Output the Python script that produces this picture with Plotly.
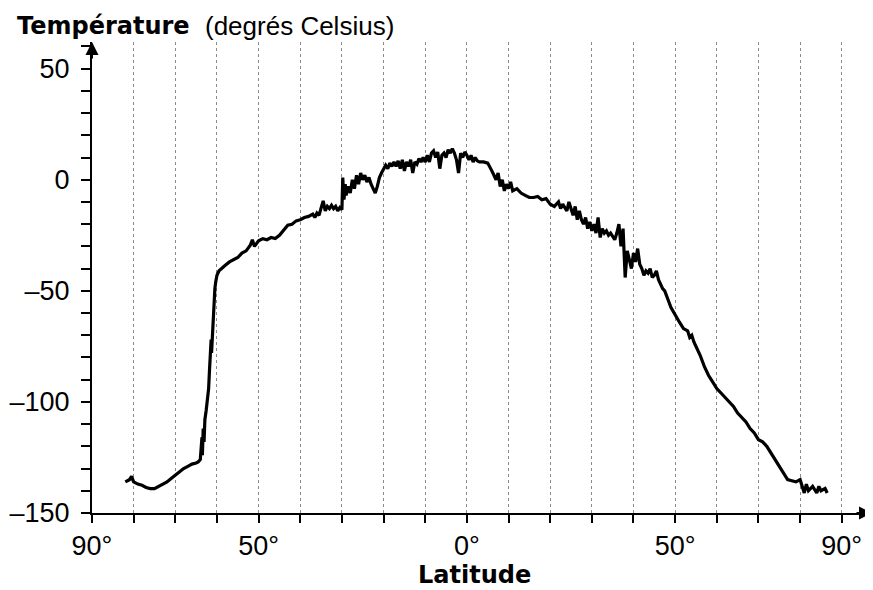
import plotly.graph_objects as go

# Latitude (negative = left side of chart) and temperature (°C)
latitude = [
    -82, -81, -80.5, -80, -79, -78, -77, -76, -75, -74, -73, -72, -71, -70, -69, -68, -67, -66, -65, -64.5,
    -64, -63.8, -63.6, -63.5, -63.3, -63.1, -62.9, -62.6, -62.3, -62.0, -61.8, -61.6, -61.4, -61.3, -61.1,
    -60.9, -60.7, -60.5, -60.3, -60, -59.5, -59,
    -58, -57, -56, -55, -54, -53, -52, -51.5, -51, -50, -49, -48, -47, -46, -45, -44, -43, -42, -41, -40,
    -39, -38, -37, -36.5, -36, -35.5, -35, -34.5, -34, -33.5, -33, -32.5, -32, -31.5, -31, -30.5, -30,
    -29.8, -29.5, -29.2, -29, -28.5, -28, -27.5, -27, -26.5, -26, -25.5, -25, -24.5, -24, -23.5, -23, -22.5,
    -22, -21.5, -21, -20.5, -20, -19.5, -19, -18.5, -18, -17.5, -17, -16.5, -16, -15.5, -15, -14.5, -14,
    -13.5, -13, -12.5, -12, -11.5, -11, -10.5, -10, -9.5, -9, -8.5, -8, -7.5, -7, -6.5, -6, -5.5, -5, -4.5,
    -4, -3.5, -3, -2.5, -2, -1.5, -1, -0.5, 0, 0.5, 1, 1.5, 2, 2.5, 3, 4, 5, 5.5, 6, 6.5, 7, 7.5, 8, 8.5,
    9, 9.5, 10, 10.5, 11, 12, 13, 14, 15, 16, 17, 18, 19, 20, 21, 22, 22.5, 23, 24, 24.5, 25, 25.5, 26,
    26.5, 27, 27.5, 28, 28.5, 29, 29.5, 30, 30.5, 31, 31.5, 32, 32.5, 33, 33.5, 34, 34.5, 35, 35.5, 36,
    36.5, 37, 37.5, 38, 38.5, 39, 39.5, 40, 40.5, 41, 41.5, 42, 42.5, 43, 43.5, 44, 44.5, 45, 45.5, 46,
    46.5, 47, 47.5, 48, 48.5, 49, 50, 51, 52, 53, 53.5, 54, 54.5, 55, 56, 57, 58, 59, 60, 61, 62, 63, 64,
    65, 66, 67, 68, 69, 70, 71, 72, 73, 74, 75, 76, 77, 78, 79, 80, 80.5, 81, 81.5, 82, 83, 84, 84.5, 85,
    86, 86.5,
]
temperature = [
    -136, -135, -133.5, -136, -137, -137.5, -138.5, -139, -139, -138, -137, -136, -134.5, -133, -131.5, -130, -129, -128, -127.5, -127,
    -126, -122, -116, -124, -112, -118, -108, -104, -100, -94, -86, -80, -72, -78, -70,
    -62, -54, -49, -46, -43, -41, -40,
    -38.5, -37, -36, -35, -33, -32, -29.5, -27, -30, -27.5, -26.5, -27, -26, -26.5, -25, -23, -20.5, -20, -18.5, -18,
    -17, -16.5, -15.5, -17, -15, -16, -13, -9.5, -14, -12, -13, -11.5, -13, -12, -14, -12.5, -13.5,
    1, -9, -2, -7, -3, -6, 0, -4, 2, -2, 3, 0, 2, -1, 1, -2, -4,
    -6, -3, 1, 3, 5, 6.5, 5, 7.5, 6, 8, 6, 8.5, 5, 9, 4, 8, 6,
    9, 3, 8, 7, 9.5, 8, 10, 8, 11, 8, 12, 13, 10, 12.5, 5, 11, 12, 10, 13.5,
    12, 14, 12, 9, 3, 12, 10, 12.5, 11, 9, 11, 8, 10, 8.5, 8, 8, 7.5, 6, 4, 2, 0, 3, -3, 0,
    -5, -2, -4, -1, -5, -4, -6, -7, -8, -8, -7.5, -9, -8.5, -11, -12, -10, -13, -11, -14, -10, -13, -16, -12,
    -18, -14, -18, -20, -17, -22, -19, -23, -20, -24, -17, -26, -22, -24, -23, -25, -24, -25.5, -27, -24,
    -20, -30, -22, -44, -32, -36, -40, -33, -37, -31, -38, -40, -43, -41, -42, -40, -44, -43, -41, -45,
    -47, -49, -50, -53, -55, -57.5, -61, -64, -67, -68, -71, -70, -73, -75, -79, -84, -88, -91, -94, -96, -98, -100, -102,
    -105, -107, -109, -112, -114, -117, -118, -120, -123, -126, -129, -132, -135, -135.5, -136, -135, -138, -141, -137, -140, -138, -141, -138, -140,
    -139, -141,
]

x_tick_values = [-90, -80, -70, -60, -50, -40, -30, -20, -10, 0, 10, 20, 30, 40, 50, 60, 70, 80, 90]
x_tick_labels = ["90°", "", "", "", "50°", "", "", "", "", "0°", "", "", "", "", "50°", "", "", "", "90°"]
y_tick_values = [-150, -100, -50, 0, 50]
y_tick_labels = ["–150", "–100", "–50", "0", "50"]

FONT = "Liberation Sans, Arial, sans-serif"
BOLD_FONT = "DejaVu Sans, sans-serif"

fig = go.Figure()
fig.add_trace(go.Scatter(
    x=latitude, y=temperature, mode="lines",
    line=dict(color="black", width=3.2),
    showlegend=False, hoverinfo="skip",
))

fig.update_layout(
    width=865, height=582,
    margin=dict(l=84, r=0, t=34, b=77),
    paper_bgcolor="white", plot_bgcolor="white",
    font=dict(family=FONT, color="black", size=26),
    xaxis=dict(
        range=[-90, 97.5], tickvals=x_tick_values, ticktext=x_tick_labels,
        ticks="outside", ticklen=8, tickwidth=2, tickcolor="black",
        showline=True, linecolor="black", linewidth=2,
        showgrid=True, gridcolor="#8a8a8a", griddash="dot", gridwidth=1,
        zeroline=False, tickfont=dict(size=27, family=FONT),
        ticklabelstandoff=0,
    ),
    yaxis=dict(
        range=[-150, 62], tickvals=y_tick_values, ticktext=y_tick_labels,
        ticks="outside", ticklen=9, tickwidth=2, tickcolor="black",
        minor=dict(dtick=10, ticks="outside", ticklen=9, tickwidth=2, tickcolor="black", showgrid=False),
        showline=True, linecolor="black", linewidth=2,
        showgrid=False, zeroline=False, tickfont=dict(size=27, family=FONT),
        ticklabelstandoff=6,
    ),
    annotations=[
        dict(text="<b>Température</b>", xref="paper", yref="paper",
             x=-0.0986, y=1.035, xanchor="left", yanchor="middle", showarrow=False,
             font=dict(size=24, family=BOLD_FONT)),
        dict(text="(degrés Celsius)", xref="paper", yref="paper",
             x=0.142, y=1.035, xanchor="left", yanchor="middle", showarrow=False,
             font=dict(size=26, family=FONT)),
        dict(text="<b>Latitude</b>", xref="paper", yref="paper",
             x=0.49, y=-0.132, xanchor="center", yanchor="middle", showarrow=False,
             font=dict(size=24, family=BOLD_FONT)),
        dict(text="", xref="paper", yref="paper", x=0, y=1.0, ax=0, ay=18,
             showarrow=True, arrowhead=2, arrowsize=1.3, arrowwidth=2, arrowcolor="black"),
        dict(text="", xref="paper", yref="paper", x=1.0, y=0, ax=-18, ay=0,
             showarrow=True, arrowhead=2, arrowsize=1.3, arrowwidth=2, arrowcolor="black"),
    ],
)

fig.write_html("out.html")
